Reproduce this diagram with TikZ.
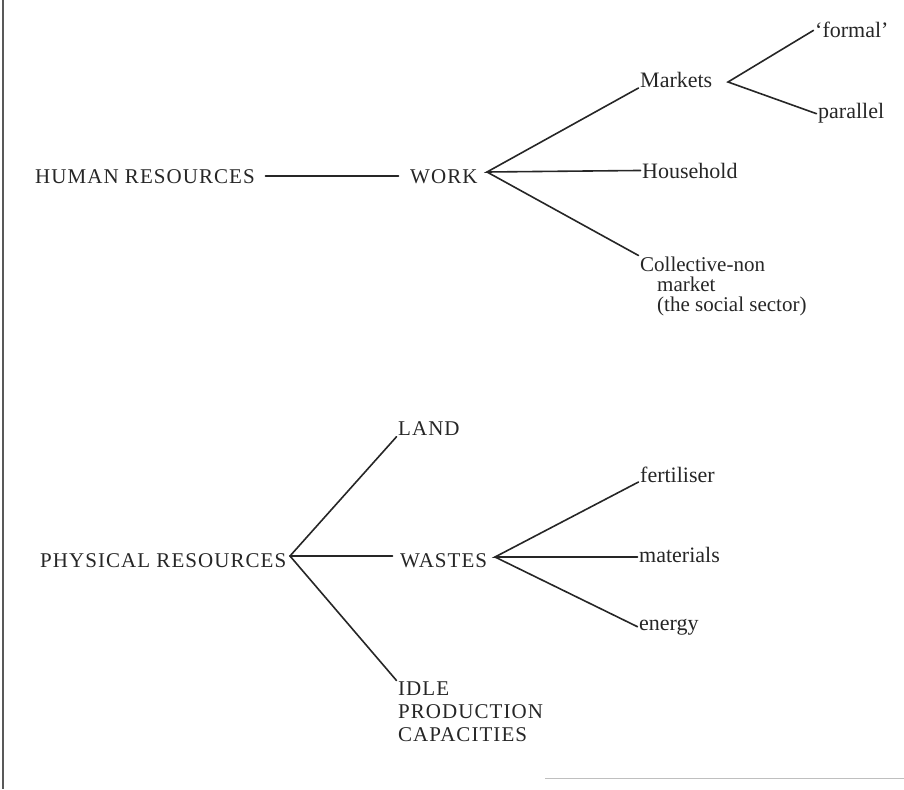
\documentclass[tikz,border=0pt]{standalone}
\usepackage{fontspec}
\setmainfont{Liberation Serif}
\newfontfamily\capsfont[LetterSpace=5]{Liberation Serif}
\definecolor{ink}{HTML}{262626}
\begin{document}
\begin{tikzpicture}[x=1pt,y=-1pt,
  lbl/.style={inner sep=1.5pt, text=ink, font=\fontsize{22}{20}\selectfont, align=left},
  caplbl/.style={inner sep=1.5pt, text=ink, font=\capsfont\fontsize{21}{23}\selectfont, align=left},
  link/.style={draw=ink, line width=1.6pt, line cap=round},
  frame/.style={draw=black!65, line width=2pt}]
\useasboundingbox (0,0) rectangle (904,789);

% page frame
\draw[frame] (3,0) -- (3,789);
\draw[draw=black!25, line width=1pt] (545,778) -- (904,778);

% --- human resources branch ---
\node[caplbl, anchor=base west] (hr)   at (33.5,183) {HUMAN RESOURCES};
\node[caplbl, anchor=base west] (work) at (408.5,183) {WORK};
\coordinate (workfan) at (487,172);
\node[lbl, anchor=base west] (markets)   at (638.5,88)  {Markets};
\coordinate (mktfan) at (728,82);
\node[lbl, anchor=base west] (formal)    at (813.5,38)  {`formal'};
\node[lbl, anchor=base west] (parallel)  at (816.5,119) {parallel};
\node[lbl, anchor=base west] (household) at (640.5,178) {Household};
\node[lbl, anchor=north west, font=\fontsize{21}{20}\selectfont] (collective) at (638.5,255.5)
  {Collective-non\\\hspace*{17pt}market\\\hspace*{17pt}(the social sector)};

\draw[link, shorten <=9pt, shorten >=10pt] (hr.east) -- (work.west |- hr.east);
\draw[link] (markets.base west) -- (workfan) -- (household.west);
\draw[link] (workfan) -- (collective.north west);
\draw[link] (formal.west) -- (mktfan) -- (parallel.west);

% --- physical resources branch ---
\node[caplbl, anchor=base west] (phys)   at (38.5,567) {PHYSICAL RESOURCES};
\coordinate (physfan) at (290,556);
\node[caplbl, anchor=base west] (land)   at (396.5,435) {LAND};
\node[caplbl, anchor=base west] (wastes) at (398.5,567) {WASTES};
\node[caplbl, anchor=north west] (idle)  at (396.5,680.5) {IDLE\\PRODUCTION\\CAPACITIES};
\coordinate (wastefan) at (495,557);
\node[lbl, anchor=base west] (fert)      at (638.5,482) {fertiliser};
\node[lbl, anchor=base west] (materials) at (637.5,562) {materials};
\node[lbl, anchor=base west] (energy)    at (637.5,630) {energy};

\draw[link] (land.south west) -- (physfan) -- (idle.north west);
\draw[link, shorten >=6pt] (physfan) -- (physfan -| wastes.west);
\draw[link] (fert.base west) -- (wastefan) -- (wastefan -| materials.west);
\draw[link] (wastefan) -- (energy.west);
\end{tikzpicture}
\end{document}
